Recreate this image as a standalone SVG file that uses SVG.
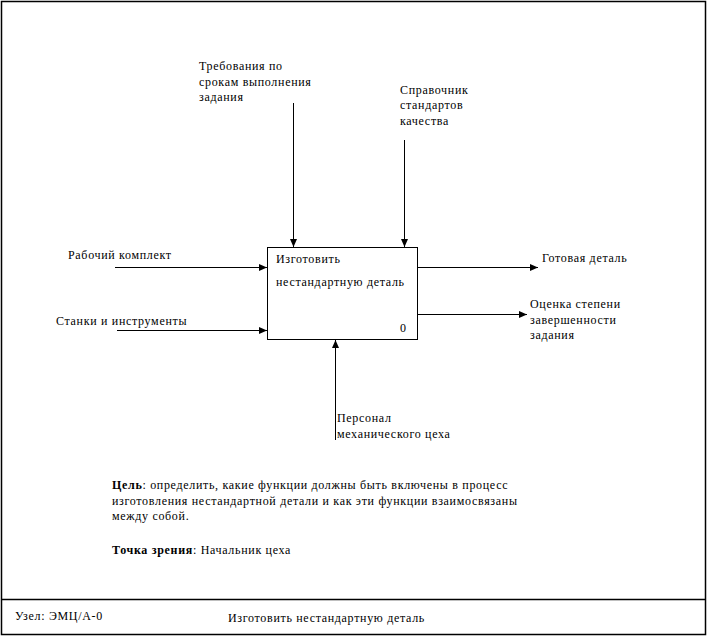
<svg xmlns="http://www.w3.org/2000/svg" width="707" height="636" viewBox="0 0 707 636">
<defs>
<marker id="ah" markerWidth="8" markerHeight="8" refX="8" refY="4" orient="auto" markerUnits="userSpaceOnUse">
<path d="M0,0.5 L8,4 L0,7.5 Z" fill="#000"/>
</marker>
<style>
text{font-family:"Liberation Serif","Times New Roman",serif;font-size:12px;fill:#000;letter-spacing:0.68px}
.ln{stroke:#000;stroke-width:1;fill:none}
.fr{stroke:#000;stroke-width:1.5;fill:none}
</style>
</defs>
<rect x="0" y="0" width="707" height="636" fill="#fff"/>
<g id="frame">
<rect class="fr" x="1.5" y="1.5" width="704" height="633"/>
<line class="fr" x1="1.5" y1="599.5" x2="705.5" y2="599.5"/>
<text x="15" y="620">Узел: ЭМЦ/А-0</text>
<text x="228" y="622">Изготовить нестандартную деталь</text>
</g>
<g id="node-A0">
<rect x="267.5" y="247.5" width="150" height="92" fill="#fff" stroke="#000" stroke-width="1"/>
<text x="276" y="263">Изготовить</text>
<text x="276" y="286">нестандартную деталь</text>
<text x="400" y="332">0</text>
</g>
<g id="connectors">
<line class="ln" x1="293.5" y1="103" x2="293.5" y2="247" marker-end="url(#ah)"/>
<line class="ln" x1="404.5" y1="140" x2="404.5" y2="247" marker-end="url(#ah)"/>
<line class="ln" x1="115" y1="267.5" x2="267" y2="267.5" marker-end="url(#ah)"/>
<line class="ln" x1="117" y1="330.5" x2="267" y2="330.5" marker-end="url(#ah)"/>
<line class="ln" x1="418" y1="267.5" x2="538" y2="267.5" marker-end="url(#ah)"/>
<line class="ln" x1="418" y1="314.5" x2="527" y2="314.5" marker-end="url(#ah)"/>
<line class="ln" x1="335.5" y1="440" x2="335.5" y2="340" marker-end="url(#ah)"/>
</g>
<g id="labels">
<text x="199" y="70">Требования по</text>
<text x="199" y="86">срокам выполнения</text>
<text x="199" y="101">задания</text>
<text x="400" y="94">Справочник</text>
<text x="400" y="109">стандартов</text>
<text x="400" y="125">качества</text>
<text x="68" y="259">Рабочий комплект</text>
<text x="56" y="325">Станки и инструменты</text>
<text x="542" y="262">Готовая деталь</text>
<text x="530" y="308">Оценка степени</text>
<text x="530" y="324">завершенности</text>
<text x="530" y="339">задания</text>
<text x="337" y="422">Персонал</text>
<text x="337" y="438">механического цеха</text>
</g>
<g id="notes">
<text x="112" y="489"><tspan font-weight="bold">Цель</tspan>: определить, какие функции должны быть включены в процесс</text>
<text x="112" y="505">изготовления нестандартной детали и как эти функции взаимосвязаны</text>
<text x="112" y="520">между собой.</text>
<text x="112" y="554"><tspan font-weight="bold">Точка зрения</tspan>: Начальник цеха</text>
</g>
</svg>
